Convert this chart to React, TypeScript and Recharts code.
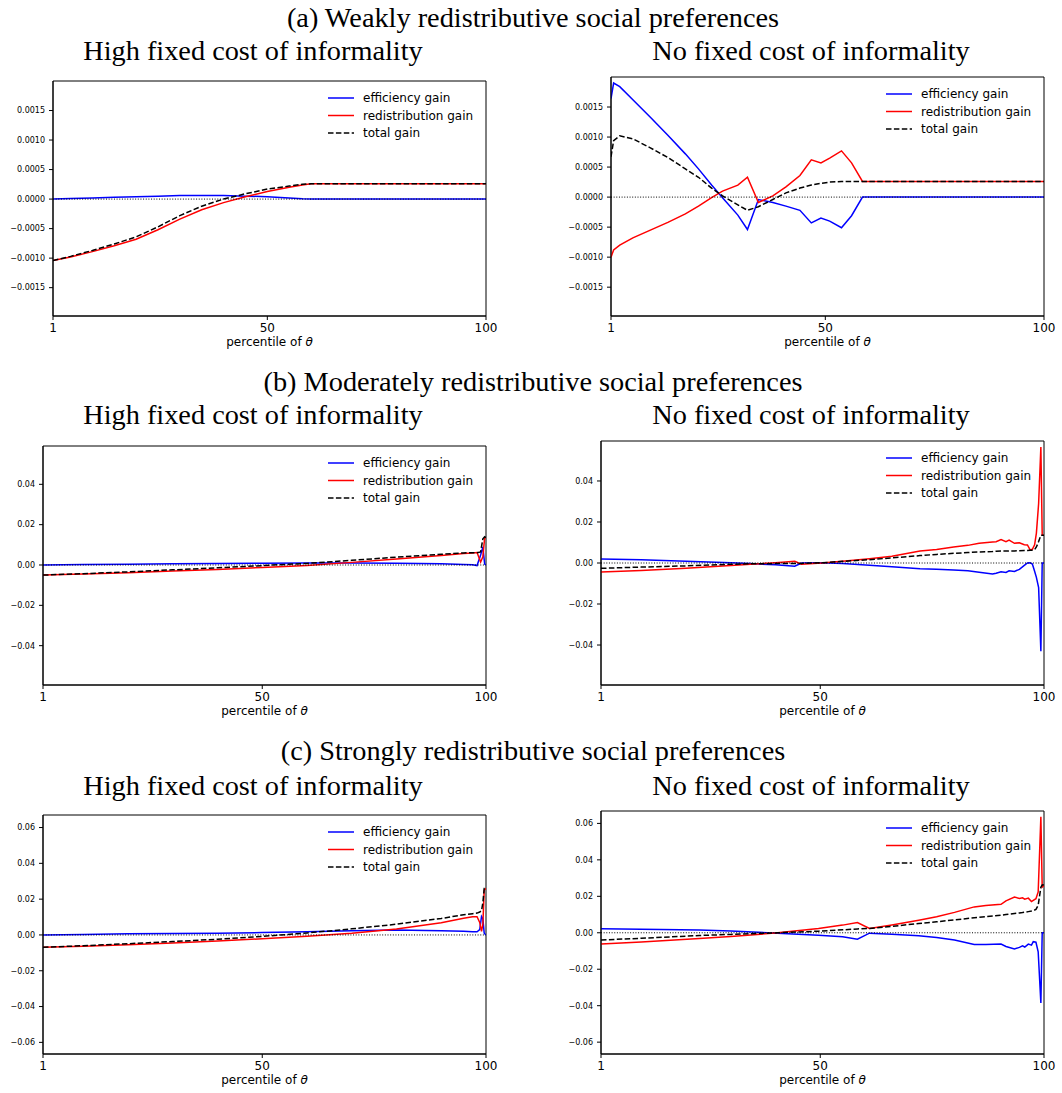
import { LineChart, Line, XAxis, YAxis, ReferenceLine, ReferenceArea } from "recharts";

// (a) weakly redistributive, high fixed cost
const aHighPct = [1, 5, 10, 15, 20, 25, 30, 35, 40, 45, 50, 55, 58, 60, 70, 80, 90, 100];
const aHighEff = [0, 0.00001, 0.00002, 0.00003, 0.00004, 0.00005, 0.00006, 0.00006, 0.00006, 0.00005, 0.00004, 0.00002, 0.000005, 0, 0, 0, 0, 0];
const aHighRed = [-0.00104, -0.00098, -0.00089, -0.00079, -0.00068, -0.00052, -0.00034, -0.00018, -0.00006, 0.00004, 0.00013, 0.0002, 0.00024, 0.00026, 0.00026, 0.00026, 0.00026, 0.00026];
const aHighTot = [-0.00104, -0.00097, -0.00087, -0.00076, -0.00064, -0.00047, -0.00028, -0.00012, 0, 0.00009, 0.00017, 0.00022, 0.00025, 0.00026, 0.00026, 0.00026, 0.00026, 0.00026];

// (a) weakly redistributive, no fixed cost
const aNoPct = [1, 1.6, 3, 6, 10, 14, 18, 21, 24, 26.5, 30, 32.2, 34.7, 38, 41, 44.2, 46.8, 49, 51, 53.7, 56, 58.5, 65, 75, 85, 100];
const aNoEff = [0.00164, 0.0019, 0.00184, 0.00162, 0.00133, 0.00103, 0.00072, 0.00047, 0.0002, -0.00001, -0.0003, -0.00054, -0.00004, -0.00009, -0.00015, -0.00022, -0.00043, -0.00035, -0.0004, -0.00051, -0.00031, 0, 0, 0, 0, 0];
const aNoRed = [-0.001, -0.00088, -0.0008, -0.00068, -0.00055, -0.00042, -0.00028, -0.00015, -0.00001, 0.0001, 0.0002, 0.00033, -0.00009, 0.00002, 0.00017, 0.00036, 0.00062, 0.00057, 0.00065, 0.00077, 0.00057, 0.00026, 0.00026, 0.00026, 0.00026, 0.00026];
const aNoTot = [0.00067, 0.00094, 0.00102, 0.00097, 0.00082, 0.00066, 0.00047, 0.00033, 0.00015, 0.00002, -0.00013, -0.00022, -0.00016, -0.00004, 0.00007, 0.00015, 0.0002, 0.00023, 0.00025, 0.00026, 0.00026, 0.00026, 0.00026, 0.00026, 0.00026, 0.00026];

// (b) moderately redistributive, high fixed cost
const bHighPct = [1, 10, 20, 30, 40, 50, 60, 70, 80, 90, 95, 97, 98, 98.8, 99.3, 99.7, 100];
const bHighEff = [0, 0.0002, 0.0004, 0.0006, 0.0008, 0.0009, 0.001, 0.001, 0.0009, 0.0006, 0.0003, 0.0001, -0.0003, 0.005, 0.009, 0.0005, 0];
const bHighRed = [-0.005, -0.0045, -0.0038, -0.003, -0.0022, -0.0012, -0.0002, 0.0013, 0.003, 0.0047, 0.0057, 0.006, 0.0062, 0.0015, 0.004, 0.0135, 0.0135];
const bHighTot = [-0.005, -0.0043, -0.0034, -0.0024, -0.0014, -0.0003, 0.0008, 0.0023, 0.0039, 0.0053, 0.006, 0.0061, 0.0061, 0.0065, 0.013, 0.014, 0.0135];

// (b) moderately redistributive, no fixed cost
const bNoPct = [1, 10, 20, 30, 34.4, 40, 44.3, 45.8, 50.3, 55, 61, 66, 72.3, 76, 79.8, 83, 85.5, 88.5, 89.3, 90.4, 91.5, 92.2, 93.4, 94.5, 95.6, 96.3, 96.9, 97.4, 97.9, 98.3, 98.8, 99.3, 99.6, 100];
const bNoEff = [0.002, 0.0016, 0.0009, 0.0001, -0.0003, -0.0009, -0.0016, 0, 0.0001, -0.0003, -0.0011, -0.0018, -0.0028, -0.0031, -0.0034, -0.0038, -0.0045, -0.0054, -0.005, -0.0043, -0.0046, -0.0038, -0.0041, -0.0031, -0.0012, 0, 0.0001, -0.0005, -0.004, -0.007, -0.012, -0.043, 0, 0];
const bNoRed = [-0.0044, -0.0036, -0.0025, -0.0012, -0.0006, 0.0001, 0.0008, -0.0006, 0, 0.0009, 0.0021, 0.0033, 0.0059, 0.0066, 0.0078, 0.0086, 0.0096, 0.0103, 0.0104, 0.0114, 0.0104, 0.0112, 0.0096, 0.0099, 0.0089, 0.0088, 0.0064, 0.0067, 0.0089, 0.0146, 0.029, 0.0566, 0.0135, 0.0135];
const bNoTot = [-0.0026, -0.002, -0.0014, -0.0006, -0.0004, -0.0003, -0.0002, -0.0002, 0.0001, 0.0008, 0.0016, 0.0025, 0.0036, 0.0042, 0.0047, 0.0051, 0.0054, 0.0056, 0.0057, 0.0058, 0.0058, 0.0059, 0.0059, 0.006, 0.0061, 0.0061, 0.0062, 0.0062, 0.0065, 0.0078, 0.0105, 0.0135, 0.0135, 0.0135];

// (c) strongly redistributive, high fixed cost
const cHighPct = [1, 10, 20, 30, 40, 50, 60, 70, 80, 90, 95, 97, 98, 98.6, 99, 99.3, 99.6, 100];
const cHighEff = [0, 0.0003, 0.0006, 0.0008, 0.001, 0.0013, 0.0018, 0.0024, 0.0027, 0.0024, 0.002, 0.0018, 0.0018, 0.003, 0.0103, 0.009, 0.001, 0];
const cHighRed = [-0.0069, -0.0063, -0.0055, -0.0045, -0.0034, -0.0021, -0.0007, 0.001, 0.0033, 0.0068, 0.0093, 0.0101, 0.0102, 0.007, 0.002, 0.006, 0.025, 0.026];
const cHighTot = [-0.0069, -0.006, -0.0049, -0.0037, -0.0024, -0.0008, 0.0011, 0.0034, 0.006, 0.0092, 0.0113, 0.0119, 0.0122, 0.0128, 0.0135, 0.018, 0.026, 0.026];

// (c) strongly redistributive, no fixed cost
const cNoPct = [1, 10, 23, 30, 40.5, 49.6, 55, 58.3, 61, 66, 72, 76, 80, 84.4, 87, 90.4, 91.5, 93.4, 94.5, 95.2, 95.7, 96.5, 97.2, 97.6, 98.2, 98.7, 99.3, 99.6, 100];
const cNoEff = [0.0022, 0.002, 0.0015, 0.001, -0.0002, -0.0013, -0.0022, -0.0035, -0.0002, -0.0008, -0.0016, -0.0026, -0.004, -0.0064, -0.0065, -0.0062, -0.0075, -0.0089, -0.008, -0.0072, -0.0078, -0.0062, -0.0068, -0.0049, -0.0052, -0.0104, -0.0385, 0, 0];
const cNoRed = [-0.0062, -0.005, -0.0031, -0.0021, 0, 0.0024, 0.0042, 0.0056, 0.0024, 0.0043, 0.0069, 0.0088, 0.0112, 0.0142, 0.015, 0.0156, 0.0175, 0.0196, 0.0188, 0.0192, 0.0184, 0.019, 0.0171, 0.0178, 0.0187, 0.0224, 0.0636, 0.0251, 0.026];
const cNoTot = [-0.004, -0.003, -0.0015, -0.0009, 0, 0.0009, 0.0016, 0.0021, 0.0024, 0.0035, 0.0051, 0.006, 0.0071, 0.0082, 0.0088, 0.0096, 0.01, 0.0106, 0.0109, 0.0111, 0.0113, 0.0116, 0.0119, 0.0121, 0.0128, 0.0151, 0.025, 0.0262, 0.0264];

const xTicks = [1, 50, 100];
const aTicks = [-0.0015, -0.001, -0.0005, 0, 0.0005, 0.001, 0.0015];
const bTicks = [-0.04, -0.02, 0, 0.02, 0.04];
const cTicks = [-0.06, -0.04, -0.02, 0, 0.02, 0.04, 0.06];

const sections = [
  "(a) Weakly redistributive social preferences",
  "(b) Moderately redistributive social preferences",
  "(c) Strongly redistributive social preferences",
];
const leftTitle = "High fixed cost of informality";
const rightTitle = "No fixed cost of informality";

const SERIES = [
  { key: "eff", name: "efficiency gain", color: "#0000ff", dash: undefined as string | undefined },
  { key: "red", name: "redistribution gain", color: "#ff0000", dash: undefined as string | undefined },
  { key: "tot", name: "total gain", color: "#000000", dash: "5.5 2.4" },
];

const SANS = "DejaVu Sans";
const SERIF = "Liberation Serif";

function rows(pct: number[], eff: number[], red: number[], tot: number[]) {
  return pct.map((p, i) => ({ p, eff: eff[i], red: red[i], tot: tot[i] }));
}

const fmt = (digits: number) => (v: number) => {
  const s = Math.abs(v).toFixed(digits);
  return v < 0 ? "\u2212" + s : s;
};

type Box = { L: number; R: number; T: number; B: number };

const panels = [
  { box: { L: 53, R: 486, T: 81, B: 316 }, data: rows(aHighPct, aHighEff, aHighRed, aHighTot), domain: [-0.00198, 0.002], ticks: aTicks, digits: 4 },
  { box: { L: 611, R: 1044, T: 77, B: 316 }, data: rows(aNoPct, aNoEff, aNoRed, aNoTot), domain: [-0.00198, 0.002], ticks: aTicks, digits: 4 },
  { box: { L: 43, R: 486, T: 446, B: 685 }, data: rows(bHighPct, bHighEff, bHighRed, bHighTot), domain: [-0.0595, 0.059], ticks: bTicks, digits: 2 },
  { box: { L: 601, R: 1044, T: 441, B: 685 }, data: rows(bNoPct, bNoEff, bNoRed, bNoTot), domain: [-0.0595, 0.0595], ticks: bTicks, digits: 2 },
  { box: { L: 43, R: 486, T: 815, B: 1054 }, data: rows(cHighPct, cHighEff, cHighRed, cHighTot), domain: [-0.0665, 0.067], ticks: cTicks, digits: 2 },
  { box: { L: 601, R: 1044, T: 811, B: 1054 }, data: rows(cNoPct, cNoEff, cNoRed, cNoTot), domain: [-0.0665, 0.0668], ticks: cTicks, digits: 2 },
];

function Panel({ box, data, domain, ticks, digits }: { box: Box; data: any[]; domain: number[]; ticks: number[]; digits: number }) {
  const w = box.R - box.L + 90;
  const h = box.B - box.T + 40;
  return (
    <div style={{ position: "absolute", left: box.L - 60, top: box.T - 10 }}>
      <LineChart width={w} height={h} data={data} margin={{ top: 10, right: 30, bottom: 0, left: 0 }}>
        <XAxis
          dataKey="p"
          type="number"
          domain={[1, 100]}
          ticks={xTicks}
          interval={0}
          allowDataOverflow
          height={30}
          tickSize={4}
          tickMargin={3}
          stroke="#000"
          tick={{ fill: "#000", fontSize: 12, fontFamily: SANS }}
        />
        <YAxis
          type="number"
          domain={domain}
          ticks={ticks}
          interval={0}
          allowDataOverflow
          width={60}
          tickSize={4}
          tickMargin={4}
          tickFormatter={fmt(digits)}
          stroke="#000"
          tick={{ fill: "#000", fontSize: 8, fontFamily: SANS }}
        />
        {SERIES.map((s) => (
          <Line
            key={s.key}
            dataKey={s.key}
            name={s.name}
            type="linear"
            stroke={s.color}
            strokeWidth={1.5}
            strokeDasharray={s.dash}
            dot={false}
            isAnimationActive={false}
          />
        ))}
        <ReferenceLine y={0} stroke="#000" strokeWidth={1} strokeDasharray="1 1.65" />
        <ReferenceArea x1={1} x2={100} y1={domain[0]} y2={domain[1]} fill="none" fillOpacity={0} stroke="#000" strokeWidth={1} ifOverflow="visible" />
      </LineChart>
    </div>
  );
}

function Legend({ box }: { box: Box }) {
  return (
    <g>
      {SERIES.map((s, i) => {
        const y = box.T + 17 + i * 17.5;
        return (
          <g key={s.key}>
            <line x1={box.R - 158} x2={box.R - 132} y1={y} y2={y} stroke={s.color} strokeWidth={1.5} strokeDasharray={s.dash} />
            <text x={box.R - 123} y={y + 4} fontFamily={SANS} fontSize={12} fill="#000">
              {s.name}
            </text>
          </g>
        );
      })}
    </g>
  );
}

export default function App() {
  const titleBase = [
    { sup: 27, sub: 60 },
    { sup: 391, sub: 424 },
    { sup: 760, sub: 795 },
  ];
  return (
    <div style={{ position: "absolute", left: 0, top: 0, width: 1062, height: 1093, background: "#fff" }}>
      {panels.map((p, i) => (
        <Panel key={i} {...p} />
      ))}
      <svg width={1062} height={1093} style={{ position: "absolute", left: 0, top: 0, pointerEvents: "none" }}>
        {titleBase.map((t, i) => (
          <g key={i}>
            <text x={533} y={t.sup} textAnchor="middle" fontFamily={SERIF} fontSize={28.3} fill="#000">
              {sections[i]}
            </text>
            <text x={253} y={t.sub} textAnchor="middle" fontFamily={SERIF} fontSize={28.3} fill="#000">
              {leftTitle}
            </text>
            <text x={811} y={t.sub} textAnchor="middle" fontFamily={SERIF} fontSize={28.3} fill="#000">
              {rightTitle}
            </text>
          </g>
        ))}
        {panels.map((p, i) => (
          <g key={i}>
            <Legend box={p.box} />
            <text x={(p.box.L + p.box.R) / 2} y={p.box.B + 30} textAnchor="middle" fontFamily={SANS} fontSize={12} fill="#000">
              percentile of <tspan fontStyle="italic">θ</tspan>
            </text>
          </g>
        ))}
      </svg>
    </div>
  );
}
